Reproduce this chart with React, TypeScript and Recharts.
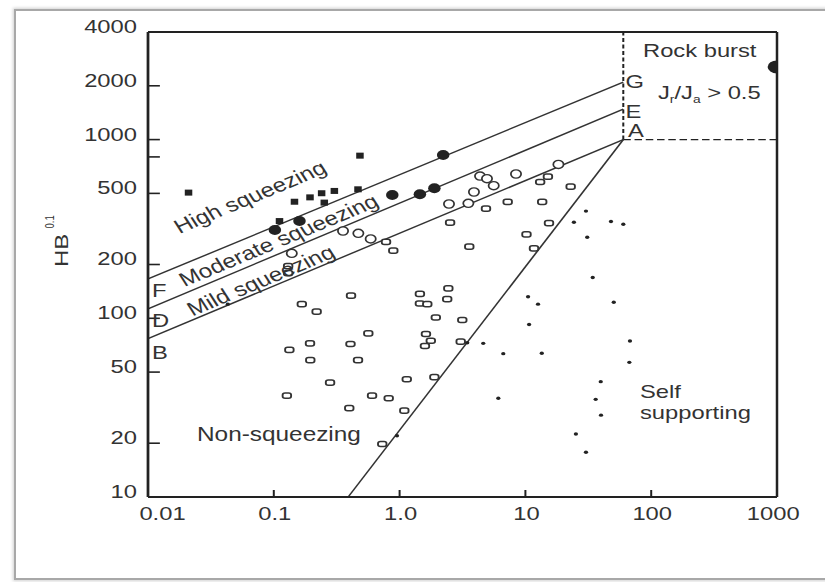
import React from "react";
import { ReferenceLine, Scatter, ScatterChart, XAxis, YAxis } from "recharts";

// the source image is stretched sideways, so the chart is drawn narrow and scaled out
const STRETCH = 1.25;
const W = 660;
const H = 582;
const PLOT_LEFT = 118.4;
const PLOT_TOP = 32;
const PLOT_RIGHT = 621.6;
const PLOT_BOTTOM = 497;
const INK = "#222";
const TEXT = "#333";
const FONT = "'Liberation Sans', Arial, sans-serif";

const xTicks = [0.01, 0.1, 1, 10, 100, 1000];
const xTickLabels = ["0.01", "0.1", "1.0", "10", "100", "1000"];
const yTicks = [10, 20, 50, 100, 200, 500, 800, 1000, 2000, 4000];
const yTickLabels = ["10", "20", "50", "100", "200", "500", "", "1000", "2000", "4000"];

// filled squares
const highSqueezingSquares = [
  { x: 0.021, y: 505 },
  { x: 0.111, y: 350 },
  { x: 0.146, y: 449 },
  { x: 0.194, y: 475 },
  { x: 0.24, y: 501 },
  { x: 0.252, y: 444 },
  { x: 0.303, y: 516 },
  { x: 0.467, y: 527 },
  { x: 0.484, y: 813 },
];

// filled circles
const highSqueezingCircles = [
  { x: 0.102, y: 312 },
  { x: 0.16, y: 350 },
  { x: 0.875, y: 490 },
  { x: 1.45, y: 494 },
  { x: 1.89, y: 534 },
  { x: 2.22, y: 820 },
];

// open circles
const moderatePoints = [
  { x: 0.139, y: 231 },
  { x: 0.355, y: 308 },
  { x: 0.47, y: 299 },
  { x: 0.589, y: 278 },
  { x: 2.47, y: 436 },
  { x: 3.52, y: 440 },
  { x: 3.9, y: 509 },
  { x: 4.36, y: 625 },
  { x: 4.95, y: 604 },
  { x: 5.6, y: 552 },
  { x: 8.42, y: 642 },
  { x: 18.3, y: 726 },
];

// small open squares
const mildPoints = [
  { x: 0.13, y: 196 },
  { x: 0.13, y: 179 },
  { x: 0.78, y: 268 },
  { x: 0.891, y: 239 },
  { x: 2.52, y: 343 },
  { x: 3.58, y: 252 },
  { x: 4.86, y: 411 },
  { x: 7.23, y: 448 },
  { x: 13.1, y: 579 },
  { x: 15.1, y: 620 },
  { x: 13.6, y: 448 },
  { x: 22.9, y: 545 },
  { x: 15.4, y: 341 },
  { x: 10.2, y: 295 },
  { x: 11.7, y: 246 },
  { x: 2.44, y: 147 },
  { x: 2.39, y: 128 },
  { x: 1.45, y: 137 },
  { x: 1.45, y: 121 },
  { x: 1.66, y: 120 },
  { x: 1.94, y: 101 },
  { x: 3.15, y: 97.8 },
  { x: 0.411, y: 134 },
  { x: 0.564, y: 82.4 },
  { x: 0.407, y: 71.8 },
  { x: 0.467, y: 58.4 },
  { x: 1.62, y: 81.7 },
  { x: 1.77, y: 74.9 },
  { x: 1.59, y: 70 },
  { x: 3.06, y: 74 },
  { x: 1.14, y: 45.6 },
  { x: 1.89, y: 46.8 },
  { x: 0.604, y: 36.9 },
  { x: 0.819, y: 35.7 },
  { x: 0.398, y: 31.4 },
  { x: 1.09, y: 30.4 },
  { x: 0.728, y: 19.8 },
  { x: 0.167, y: 120 },
  { x: 0.219, y: 109 },
  { x: 0.133, y: 66.5 },
  { x: 0.194, y: 72.4 },
  { x: 0.195, y: 58.4 },
  { x: 0.28, y: 43.7 },
  { x: 0.127, y: 36.9 },
];

// small dots
const selfSupportingPoints = [
  { x: 0.0431, y: 120 },
  { x: 0.953, y: 22 },
  { x: 3.45, y: 73 },
  { x: 4.62, y: 72.4 },
  { x: 6.67, y: 63.4 },
  { x: 13.5, y: 63.7 },
  { x: 10.5, y: 132 },
  { x: 12.6, y: 120 },
  { x: 10.7, y: 92.3 },
  { x: 6.09, y: 35.7 },
  { x: 30.3, y: 398 },
  { x: 24.3, y: 345 },
  { x: 47.9, y: 348 },
  { x: 60, y: 336 },
  { x: 31, y: 284 },
  { x: 34.3, y: 169 },
  { x: 50.4, y: 123 },
  { x: 67.8, y: 74.6 },
  { x: 67, y: 56.7 },
  { x: 39.7, y: 44.2 },
  { x: 36.2, y: 35.2 },
  { x: 39.9, y: 28.7 },
  { x: 25.2, y: 22.5 },
  { x: 30.3, y: 17.8 },
];

const rockBurstPoints = [{ x: 1000, y: 2550 }];

// boundary lines: F-G, D-E, B-A and the steep line into A
const boundaryLines = [
  [{ x: 0.01, y: 166 }, { x: 60, y: 2100 }],
  [{ x: 0.01, y: 113 }, { x: 60, y: 1480 }],
  [{ x: 0.01, y: 77 }, { x: 60, y: 1000 }],
  [{ x: 0.39, y: 10 }, { x: 60, y: 1000 }],
];
const rockBurstVertical = [{ x: 60, y: 1000 }, { x: 60, y: 4000 }];
const rockBurstHorizontal = [{ x: 60, y: 1000 }, { x: 1000, y: 1000 }];
const frameTop = [{ x: 0.01, y: 4000 }, { x: 1000, y: 4000 }];
const frameRight = [{ x: 1000, y: 10 }, { x: 1000, y: 4000 }];

const FilledSquare = (p: any) => <rect x={p.cx - 3} y={p.cy - 3} width={6} height={6} fill={INK} />;
const FilledCircle = (p: any) => <circle cx={p.cx} cy={p.cy} r={5} fill={INK} />;
const OpenCircle = (p: any) => (
  <circle cx={p.cx} cy={p.cy} r={4.1} fill="#fff" stroke={TEXT} strokeWidth={1.4} />
);
const OpenSquare = (p: any) => (
  <rect x={p.cx - 3.4} y={p.cy - 2.6} width={6.8} height={5.2} rx={2} fill="#fff" stroke={TEXT} strokeWidth={1.5} />
);
const Dot = (p: any) => <circle cx={p.cx} cy={p.cy} r={1.7} fill={INK} />;
const BigDot = (p: any) => <ellipse cx={p.cx} cy={p.cy} rx={7.5} ry={6.5} fill={INK} />;

const XTick = ({ x, payload }: any) => {
  const i = xTicks.indexOf(payload.value);
  const inner = i > 0 && i < xTicks.length - 1;
  const dx = i === 0 ? 11.6 : i === xTicks.length - 1 ? -3 : 0.8;
  return (
    <g>
      {inner && <line x1={x} x2={x} y1={PLOT_BOTTOM} y2={PLOT_BOTTOM - 7} stroke={INK} strokeWidth={1.6} />}
      <text x={x + dx} y={520} textAnchor="middle" fontSize={19} fontFamily={FONT} fill={TEXT}>
        {xTickLabels[i]}
      </text>
    </g>
  );
};

const YTick = ({ y, payload }: any) => {
  const i = yTicks.indexOf(payload.value);
  const inner = i > 0 && i < yTicks.length - 1;
  return (
    <g>
      {inner && <line x1={PLOT_LEFT} x2={PLOT_LEFT + 9.5} y1={y} y2={y} stroke={INK} strokeWidth={1.6} />}
      <text x={109.6} y={y + 1} textAnchor="end" fontSize={19} fontFamily={FONT} fill={TEXT}>
        {yTickLabels[i]}
      </text>
    </g>
  );
};

const ANGLE = -27.5;

function Labels() {
  const t = { fontFamily: FONT, fill: TEXT, fontSize: 19 };
  return (
    <svg width={W} height={H} style={{ position: "absolute", left: 0, top: 0, pointerEvents: "none" }}>
      <text {...t} x={514.4} y={57}>Rock burst</text>
      <text {...t} x={526.4} y={99}>
        J<tspan fontSize={11} dy={4}>r</tspan>
        <tspan dy={-4}>/J</tspan>
        <tspan fontSize={11} dy={4}>a</tspan>
        <tspan dy={-4}> &gt; 0.5</tspan>
      </text>
      <text {...t} x={500.5} y={88}>G</text>
      <text {...t} x={500.5} y={118}>E</text>
      <text {...t} x={502.4} y={137}>A</text>
      <text {...t} x={121.6} y={297}>F</text>
      <text {...t} x={121.6} y={327}>D</text>
      <text {...t} x={121.6} y={359}>B</text>
      <text {...t} fontSize={19.5} transform={`translate(143.5,234) rotate(${ANGLE})`}>High squeezing</text>
      <text {...t} fontSize={19.5} transform={`translate(147.5,287) rotate(${ANGLE})`}>Moderate squeezing</text>
      <text {...t} fontSize={19.5} transform={`translate(154,316.5) rotate(${ANGLE})`}>Mild squeezing</text>
      <text {...t} fontSize={19.5} x={157.6} y={441}>Non-squeezing</text>
      <text {...t} x={512} y={398}>Self</text>
      <text {...t} x={512} y={419}>supporting</text>
      <text {...t} fontSize={15} transform="translate(54.6,267) rotate(-90) scale(1.6,1)">HB</text>
      <text {...t} fontSize={9.5} transform="translate(43.5,228.5) rotate(-90)">0.1</text>
    </svg>
  );
}

export default function App() {
  const line = { stroke: TEXT, strokeWidth: 1.4, ifOverflow: "visible" as const };
  return (
    <div style={{ position: "absolute", left: 0, top: 0, width: 825, height: 582, overflow: "hidden", background: "#fff" }}>
      <div
        style={{
          position: "absolute",
          left: 14,
          top: 9,
          width: 820,
          height: 567,
          border: "2px solid #a8a8a8",
          boxShadow: "0 0 3px 1px #d0d0d0",
        }}
      />
      <div style={{ position: "absolute", left: 0, top: 0, width: W, height: H, transform: `scaleX(${STRETCH})`, transformOrigin: "0 0" }}>
        <ScatterChart width={W} height={H} margin={{ top: PLOT_TOP, right: W - PLOT_RIGHT, bottom: 0, left: 0 }}>
          <XAxis
            type="number"
            dataKey="x"
            scale="log"
            domain={[0.01, 1000]}
            ticks={xTicks}
            allowDataOverflow
            height={H - PLOT_BOTTOM}
            axisLine={{ stroke: INK, strokeWidth: 2.2 }}
            tickLine={false}
            tick={<XTick />}
            interval={0}
          />
          <YAxis
            type="number"
            dataKey="y"
            scale="log"
            domain={[10, 4000]}
            ticks={yTicks}
            allowDataOverflow
            width={PLOT_LEFT}
            axisLine={{ stroke: INK, strokeWidth: 2.2 }}
            tickLine={false}
            tick={<YTick />}
            interval={0}
          />
          <ReferenceLine segment={frameTop} stroke={INK} strokeWidth={2} ifOverflow="visible" />
          <ReferenceLine segment={frameRight} stroke={INK} strokeWidth={2} ifOverflow="visible" />
          {boundaryLines.map((seg, i) => (
            <ReferenceLine key={i} segment={seg} {...line} />
          ))}
          <ReferenceLine segment={rockBurstVertical} stroke={INK} strokeWidth={1.6} strokeDasharray="4 2.5" ifOverflow="visible" />
          <ReferenceLine segment={rockBurstHorizontal} stroke={INK} strokeWidth={1.4} strokeDasharray="6 3" ifOverflow="visible" />
          <Scatter data={mildPoints} shape={OpenSquare} isAnimationActive={false} />
          <Scatter data={moderatePoints} shape={OpenCircle} isAnimationActive={false} />
          <Scatter data={selfSupportingPoints} shape={Dot} isAnimationActive={false} />
          <Scatter data={highSqueezingSquares} shape={FilledSquare} isAnimationActive={false} />
          <Scatter data={highSqueezingCircles} shape={FilledCircle} isAnimationActive={false} />
          <Scatter data={rockBurstPoints} shape={BigDot} isAnimationActive={false} />
        </ScatterChart>
        <Labels />
      </div>
    </div>
  );
}
